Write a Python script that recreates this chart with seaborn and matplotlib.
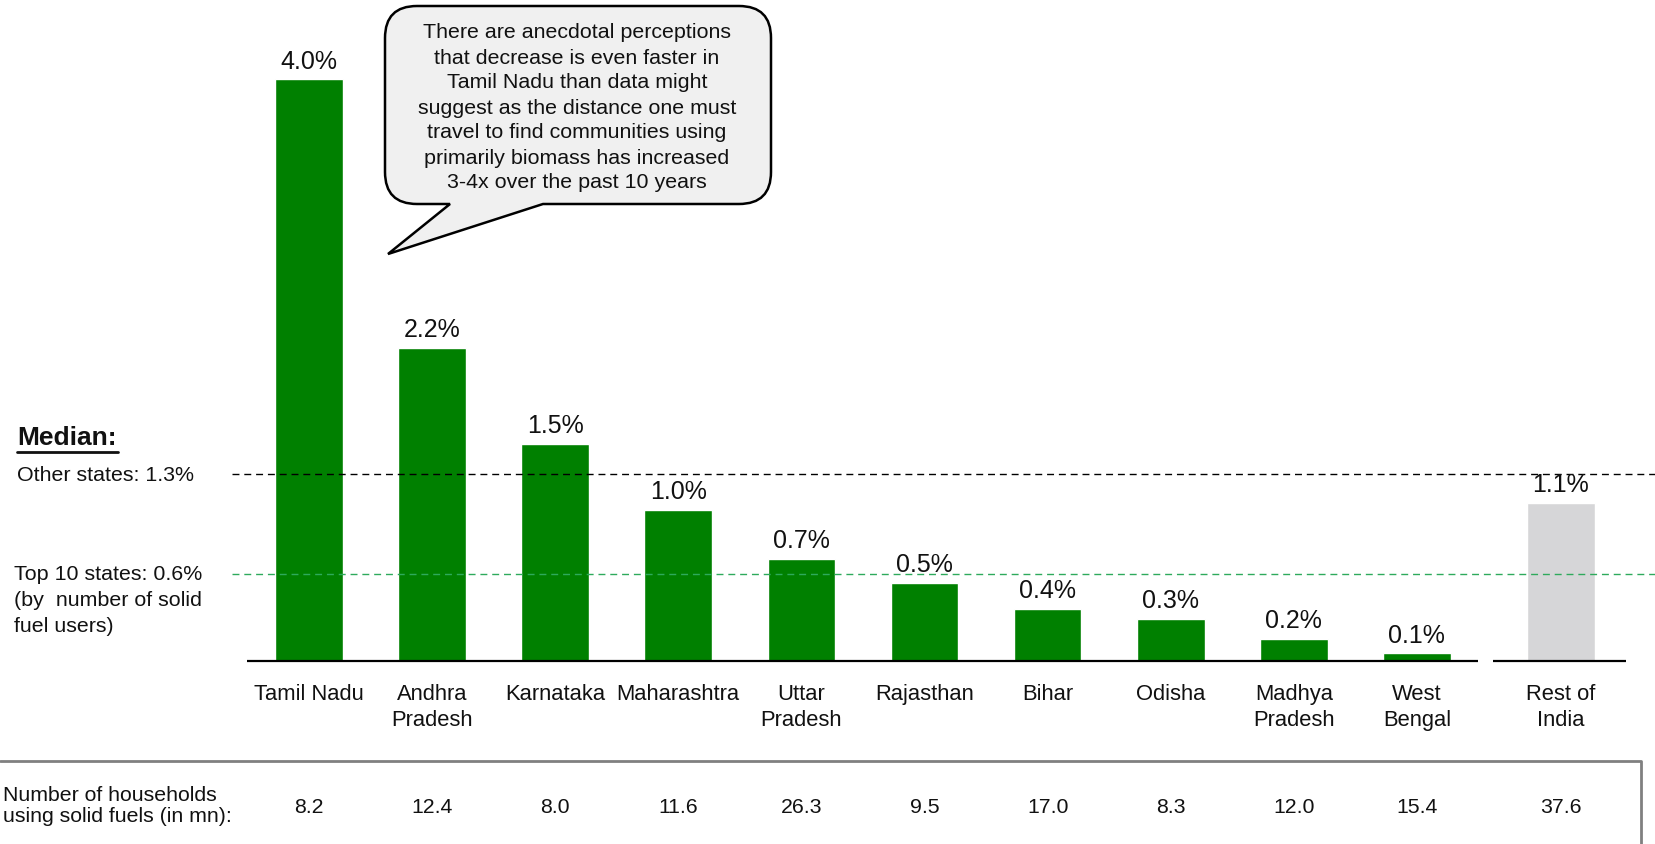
import numpy as np
import pandas as pd
import matplotlib
matplotlib.use("Agg")
import matplotlib.pyplot as plt
import matplotlib.transforms as mtransforms
from matplotlib.path import Path
from matplotlib.patches import PathPatch
import seaborn as sns

# data
states = ["Tamil Nadu", "Andhra\nPradesh", "Karnataka", "Maharashtra", "Uttar\nPradesh",
          "Rajasthan", "Bihar", "Odisha", "Madhya\nPradesh", "West\nBengal", "Rest of\nIndia"]
rates = [4.05, 2.18, 1.51, 1.05, 0.71, 0.54, 0.36, 0.29, 0.15, 0.05, 1.10]
rate_labels = ["4.0%", "2.2%", "1.5%", "1.0%", "0.7%", "0.5%", "0.4%", "0.3%", "0.2%", "0.1%", "1.1%"]
households = [8.2, 12.4, 8.0, 11.6, 26.3, 9.5, 17.0, 8.3, 12.0, 15.4, 37.6]
groups = ["state"] * 10 + ["rest"]
median_other = 1.3
median_top10 = 0.6

callout = ("There are anecdotal perceptions\nthat decrease is even faster in\n"
           "Tamil Nadu than data might\nsuggest as the distance one must\n"
           "travel to find communities using\nprimarily biomass has increased\n"
           "3-4x over the past 10 years")

GREEN = "#008000"
GRAY = "#d6d6d8"
DGREEN = "#2eaa5c"
TXT = "#111111"

W, H = 1655, 845
BASE_PX, UNIT_PX = 661.5, 143.5  # baseline pixel row, pixels per 1%
X0_PX, STEP_PX = 309, 123.1      # first bar center, bar spacing
REST_GAP = 0.17

sns.set_theme(style="white")
plt.rcParams["font.family"] = ["Liberation Sans", "DejaVu Sans"]

fig = plt.figure(figsize=(W / 100, H / 100), dpi=100)
ax = fig.add_axes([0, 0, 1, 1])

# pixel transform (reference image coords, origin top-left)
px = mtransforms.Affine2D().scale(1 / W, -1 / H).translate(0, 1) + fig.transFigure

pos = np.arange(len(states)) + REST_GAP * (np.array(groups) == "rest")
df = pd.DataFrame({"state": states, "rate": rates, "pos": pos, "group": groups})

sns.barplot(data=df, x="pos", y="rate", hue="group", palette={"state": GREEN, "rest": GRAY},
            native_scale=True, width=0.55, dodge=False, legend=False, saturation=1, ax=ax)

ax.set_xlim(-X0_PX / STEP_PX, (W - X0_PX) / STEP_PX)
ax.set_ylim(-(H - BASE_PX) / UNIT_PX, BASE_PX / UNIT_PX)
ax.axis("off")

bx = mtransforms.blended_transform_factory(ax.transData, px)

# value labels
for p, r, lab in zip(pos, rates, rate_labels):
    ax.annotate(lab, (p, r), xytext=(0, 8.5), textcoords="offset points",
                ha="center", va="baseline", fontsize=18, color=TXT)

# baselines
ax.plot([-0.5, 9.5], [0, 0], color="black", lw=1.6, solid_capstyle="butt")
ax.plot([9.62, 10.70], [0, 0], color="black", lw=1.6, solid_capstyle="butt")

# median lines
ax.axhline(median_other, xmin=232 / W, xmax=1, color="black", lw=1, ls=(0, (5, 3.5)))
ax.axhline(median_top10, xmin=232 / W, xmax=1, color=DGREEN, lw=1, ls=(0, (5, 3.5)))

# category labels
for p, s in zip(pos, states):
    for k, line in enumerate(s.split("\n")):
        ax.text(p, 695 + 25.5 * k, line, transform=bx, ha="center", va="center",
                fontsize=15.8, color=TXT)

# left annotations
fig.text(17, 438, "Median:", transform=px, ha="left", va="center", fontsize=19,
         fontweight="bold", color=TXT)
ax.plot([17, 118], [453, 453], transform=px, color=TXT, lw=2)
fig.text(17, 476, f"Other states: {median_other}%", transform=px, ha="left", va="center",
         fontsize=15.4, color=TXT)
for k, line in enumerate([f"Top 10 states: {median_top10}%", "(by  number of solid", "fuel users)"]):
    fig.text(14, 575 + 26 * k, line, transform=px, ha="left", va="center",
             fontsize=15.4, color=TXT)

# table row
ax.plot([0, 1641, 1641], [762, 762, 845], transform=px, color="#808080", lw=2)
fig.text(3, 806, "Number of households\nusing solid fuels (in mn):", transform=px,
         ha="left", va="center", fontsize=15.3, linespacing=1.1, color=TXT)
for p, h in zip(pos, households):
    ax.text(p, 808, f"{h:.1f}", transform=bx, ha="center", va="center",
            fontsize=15.3, color=TXT)

# speech bubble
x0, y0, x1, y1, r = 385, 7, 771, 205, 32
bl, br, tip = 450, 543, (388, 255)
verts = [(x0 + r, y0), (x1 - r, y0), (x1, y0), (x1, y0 + r), (x1, y1 - r), (x1, y1),
         (x1 - r, y1), (br, y1), tip, (bl, y1), (x0 + r, y1), (x0, y1), (x0, y1 - r),
         (x0, y0 + r), (x0, y0), (x0 + r, y0), (x0 + r, y0)]
codes = [Path.MOVETO, Path.LINETO, Path.CURVE3, Path.CURVE3, Path.LINETO, Path.CURVE3,
         Path.CURVE3, Path.LINETO, Path.LINETO, Path.LINETO, Path.LINETO, Path.CURVE3,
         Path.CURVE3, Path.LINETO, Path.CURVE3, Path.CURVE3, Path.CLOSEPOLY]
bubble = PathPatch(Path(verts, codes), transform=px, facecolor="#f0f0f0",
                   edgecolor="black", lw=1.8, joinstyle="miter")
fig.patches.append(bubble)
fig.text(577, 108, callout, transform=px, ha="center", va="center", fontsize=15.4,
         linespacing=1.4, color=TXT)

fig.savefig("out.png", dpi=100)
